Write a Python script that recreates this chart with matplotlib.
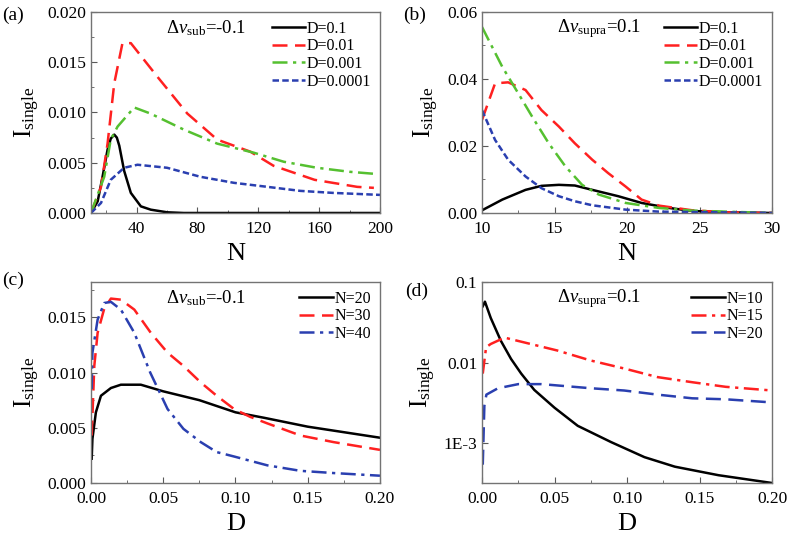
#Recreate the four-panel I_single figure (sub/supra threshold)
import numpy as np
import matplotlib
matplotlib.use('Agg')
import matplotlib.pyplot as plt
from matplotlib.ticker import MultipleLocator, FixedLocator, NullLocator

plt.rcParams['font.family'] = ['Liberation Serif', 'DejaVu Serif']
plt.rcParams['mathtext.fontset'] = 'custom'
plt.rcParams['mathtext.rm'] = 'Liberation Serif'
plt.rcParams['mathtext.it'] = 'Liberation Serif:italic'

#Panel (a): I_single vs N, dv_sub = -0.1
a_N_01 = [10, 14.4, 17.6, 20.9, 23, 25.3, 27, 28.6, 31.8, 36.2, 42.8, 49.3, 60, 71, 100, 150, 200]
a_I_01 = [0, 0.00116, 0.0036, 0.0063, 0.0074, 0.0078, 0.0075, 0.0067, 0.0042, 0.002, 0.00066, 0.00033, 0.00007, 0, 0, 0, 0]
a_N_001 = [10, 16.6, 20.9, 25.3, 30.7, 36.2, 53.7, 73.3, 93, 114.8, 130, 157, 185, 196]
a_I_001 = [0, 0.0026, 0.0069, 0.0129, 0.0169, 0.0169, 0.01355, 0.0099, 0.0073, 0.0061, 0.0047, 0.0033, 0.0026, 0.0025]
a_N_0001 = [10, 18.7, 23, 27.5, 38.4, 49, 71, 93, 117, 136.7, 158.5, 180, 196]
a_I_0001 = [0, 0.0036, 0.0073, 0.0086, 0.0105, 0.0099, 0.0083, 0.0069, 0.006, 0.0051, 0.0045, 0.0041, 0.0039]
a_N_00001 = [10, 16.6, 23, 31.8, 40.6, 60, 82, 104, 126, 147.6, 169, 200]
a_I_00001 = [0, 0.001, 0.0033, 0.0045, 0.0048, 0.0045, 0.0036, 0.003, 0.0026, 0.0022, 0.002, 0.0018]

#Panel (b): I_single vs N, dv_supra = 0.1
b_N_01 = [10, 11.4, 13, 14.1, 15.3, 16.4, 17.6, 19.4, 21, 22.9, 24.5, 26.8, 30]
b_I_01 = [0.0008, 0.004, 0.0069, 0.0081, 0.0084, 0.0082, 0.0069, 0.005, 0.003, 0.0015, 0.0006, 0.0002, 0]
b_N_001 = [10, 10.9, 11.8, 13, 14.1, 15.3, 16.4, 17.6, 18.7, 19.9, 21, 22.2, 24.5, 26.8, 30]
b_I_001 = [0.0278, 0.0387, 0.039, 0.0367, 0.0307, 0.0258, 0.0208, 0.0159, 0.0119, 0.0079, 0.004, 0.0022, 0.0008, 0.0002, 0]
b_N_0001 = [10, 11.4, 12.5, 13.45, 14.6, 15.75, 16.9, 18.05, 19.9, 22.2, 24.5, 30]
b_I_0001 = [0.0555, 0.0436, 0.0357, 0.0288, 0.0208, 0.0139, 0.0084, 0.0055, 0.003, 0.0015, 0.0007, 0]
b_N_00001 = [10, 10.9, 11.8, 13, 14.1, 15.3, 16.4, 17.6, 19.9, 22.2, 30]
b_I_00001 = [0.0307, 0.0218, 0.0159, 0.0109, 0.0074, 0.005, 0.0035, 0.0023, 0.001, 0.0004, 0]

#Panel (c): I_single vs D, dv_sub = -0.1
c_D_20 = [0.0005, 0.001, 0.0034, 0.0069, 0.0138, 0.0207, 0.0345, 0.05, 0.075, 0.1, 0.12, 0.15, 0.2]
c_I_20 = [0.0022, 0.004, 0.0064, 0.0079, 0.0086, 0.0089, 0.0089, 0.0083, 0.0075, 0.0064, 0.0059, 0.0051, 0.0041]
c_D_30 = [0.0005, 0.0023, 0.0046, 0.0092, 0.0138, 0.0207, 0.03, 0.0414, 0.053, 0.064, 0.076, 0.087, 0.099, 0.11, 0.122, 0.145, 0.168, 0.2]
c_I_30 = [0.0043, 0.0106, 0.0136, 0.0158, 0.0167, 0.0166, 0.0157, 0.0136, 0.0118, 0.0106, 0.0091, 0.0079, 0.0067, 0.006, 0.0054, 0.0043, 0.0037, 0.003]
c_D_40 = [0.0005, 0.001, 0.0046, 0.0092, 0.0138, 0.0207, 0.03, 0.041, 0.053, 0.064, 0.076, 0.087, 0.099, 0.122, 0.145, 0.168, 0.2]
c_I_40 = [0.0085, 0.0118, 0.0148, 0.0163, 0.0164, 0.0157, 0.0136, 0.01, 0.0067, 0.0049, 0.0037, 0.0028, 0.0024, 0.0016, 0.0011, 0.0009, 0.00066]

#Panel (d): I_single vs D (log), dv_supra = 0.1
d_D_10 = [0.0005, 0.002, 0.006, 0.013, 0.02, 0.027, 0.036, 0.05, 0.066, 0.089, 0.112, 0.133, 0.163, 0.2]
d_I_10 = [0.05, 0.057, 0.0358, 0.0186, 0.0111, 0.0073, 0.00458, 0.00275, 0.00164, 0.00103, 0.00067, 0.00051, 0.0004, 0.00032]
d_D_15 = [0.0005, 0.0028, 0.006, 0.0155, 0.029, 0.052, 0.075, 0.0985, 0.121, 0.145, 0.168, 0.2]
d_I_15 = [0.0073, 0.0155, 0.017, 0.0204, 0.0178, 0.0141, 0.0106, 0.0084, 0.0066, 0.0057, 0.005, 0.0045]
d_D_20 = [0.0005, 0.0016, 0.003, 0.011, 0.025, 0.041, 0.075, 0.098, 0.121, 0.145, 0.168, 0.2]
d_I_20 = [0.00054, 0.0029, 0.004, 0.0048, 0.0054, 0.0054, 0.0048, 0.0045, 0.004, 0.0036, 0.0035, 0.0032]

black = 'black'
red = '#ff2020'
green = '#55c030'
blue = '#2a3fb0'
solid = '-'
dash = (0, (6, 3))
dashdot = (0, (6, 2.2, 1.3, 2.2))
shortdash = (0, (2.6, 1.3))

fig = plt.figure(figsize=(7.87, 5.35), dpi=100)
pos = {'a': [0.1156, 0.6019, 0.3672, 0.3757],
       'b': [0.6125, 0.6019, 0.3685, 0.3757],
       'c': [0.1156, 0.0972, 0.3672, 0.3757],
       'd': [0.6125, 0.0972, 0.3685, 0.3757]}
axes = {k: fig.add_axes(v) for k, v in pos.items()}


def style(ax):
    for s in ax.spines.values():
        s.set_color('0.45')
        s.set_linewidth(1.0)
    ax.tick_params(which='both', direction='in', labelsize=12.5, color='0.35')
    ax.tick_params(which='major', length=4)
    ax.tick_params(which='minor', length=2)
    ax.tick_params(axis='x', which='both', pad=6)
    ax.set_ylabel(r'$\mathrm{I}_{\mathrm{single}}$', fontsize=18)


def annotate(ax, sub, val):
    ax.text(0.26, 0.92, r'$\Delta\mathit{\nu}_{\mathrm{' + sub + '}}$=' + val,
            transform=ax.transAxes, fontsize=13.5, va='center', ha='left')


def legend(ax):
    ax.legend(loc='upper right', frameon=False, fontsize=11.5, handlelength=2.1,
              labelspacing=0.1, borderaxespad=0.15, handletextpad=0.1)


lw = 1.8
ax = axes['a']
ax.plot(a_N_01, a_I_01, color=black, ls=solid, lw=lw, label='D=0.1')
ax.plot(a_N_001, a_I_001, color=red, ls=dash, lw=lw, label='D=0.01')
ax.plot(a_N_0001, a_I_0001, color=green, ls=dashdot, lw=lw, label='D=0.001')
ax.plot(a_N_00001, a_I_00001, color=blue, ls=shortdash, lw=lw, label='D=0.0001')
ax.set_xlim(10, 200)
ax.set_ylim(0, 0.020)
ax.xaxis.set_major_locator(FixedLocator([40, 80, 120, 160, 200]))
ax.xaxis.set_minor_locator(FixedLocator([20, 60, 100, 140, 180]))
ax.yaxis.set_major_locator(MultipleLocator(0.005))
ax.yaxis.set_minor_locator(MultipleLocator(0.0025))
ax.yaxis.set_major_formatter(plt.FormatStrFormatter('%.3f'))
ax.set_xlabel('N', fontsize=19)
style(ax)
annotate(ax, 'sub', '-0.1')
legend(ax)

ax = axes['b']
ax.plot(b_N_01, b_I_01, color=black, ls=solid, lw=lw, label='D=0.1')
ax.plot(b_N_001, b_I_001, color=red, ls=dash, lw=lw, label='D=0.01')
ax.plot(b_N_0001, b_I_0001, color=green, ls=dashdot, lw=lw, label='D=0.001')
ax.plot(b_N_00001, b_I_00001, color=blue, ls=shortdash, lw=lw, label='D=0.0001')
ax.set_xlim(10, 30)
ax.set_ylim(0, 0.06)
ax.xaxis.set_major_locator(MultipleLocator(5))
ax.xaxis.set_minor_locator(MultipleLocator(2.5))
ax.yaxis.set_major_locator(MultipleLocator(0.02))
ax.yaxis.set_minor_locator(MultipleLocator(0.01))
ax.yaxis.set_major_formatter(plt.FormatStrFormatter('%.2f'))
ax.set_xlabel('N', fontsize=19)
style(ax)
annotate(ax, 'supra', '0.1')
legend(ax)

ax = axes['c']
ax.plot(c_D_20, c_I_20, color=black, ls=solid, lw=lw, label='N=20')
ax.plot(c_D_30, c_I_30, color=red, ls=dash, lw=lw, label='N=30')
ax.plot(c_D_40, c_I_40, color=blue, ls=dashdot, lw=lw, label='N=40')
ax.set_xlim(0, 0.2)
ax.set_ylim(0, 0.0182)
ax.xaxis.set_major_locator(MultipleLocator(0.05))
ax.xaxis.set_minor_locator(MultipleLocator(0.025))
ax.yaxis.set_major_locator(MultipleLocator(0.005))
ax.yaxis.set_minor_locator(MultipleLocator(0.0025))
ax.xaxis.set_major_formatter(plt.FormatStrFormatter('%.2f'))
ax.yaxis.set_major_formatter(plt.FormatStrFormatter('%.3f'))
ax.set_xlabel('D', fontsize=19)
style(ax)
annotate(ax, 'sub', '-0.1')
legend(ax)

ax = axes['d']
ax.plot(d_D_10, d_I_10, color=black, ls=solid, lw=lw, label='N=10')
ax.plot(d_D_15, d_I_15, color=red, ls=dashdot, lw=lw, label='N=15')
ax.plot(d_D_20, d_I_20, color=blue, ls=dash, lw=lw, label='N=20')
ax.set_yscale('log')
ax.set_xlim(0, 0.2)
ax.set_ylim(3.2e-4, 0.1)
ax.xaxis.set_major_locator(MultipleLocator(0.05))
ax.xaxis.set_minor_locator(MultipleLocator(0.025))
ax.xaxis.set_major_formatter(plt.FormatStrFormatter('%.2f'))
ax.yaxis.set_major_locator(FixedLocator([1e-3, 1e-2, 1e-1]))
ax.yaxis.set_major_formatter(plt.FixedFormatter(['1E-3', '0.01', '0.1']))
ax.yaxis.set_minor_locator(NullLocator())
ax.set_xlabel('D', fontsize=19)
style(ax)
annotate(ax, 'supra', '0.1')
legend(ax)

#Panel letters
for lab, x, y in [('(a)', 0.003, 0.988), ('(b)', 0.512, 0.988),
                  ('(c)', 0.003, 0.492), ('(d)', 0.515, 0.472)]:
    fig.text(x, y, lab, fontsize=14, va='top', ha='left')

plt.savefig('out.png', dpi=100)
